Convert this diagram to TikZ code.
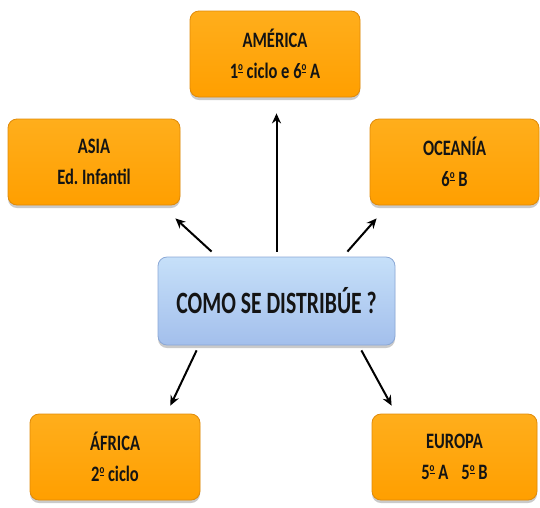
\documentclass[tikz,border=0pt]{standalone}
\usepackage{fontspec}
\setmainfont{Carlito}
\newfontfamily\boxfont[FakeStretch=0.75]{Carlito}
\newfontfamily\midfont[FakeStretch=0.7]{Carlito}
\usetikzlibrary{shadows,arrows.meta,calc}
\definecolor{orA}{HTML}{FFAE1C}
\definecolor{orB}{HTML}{FF9F00}
\definecolor{orD}{HTML}{E08A08}
\definecolor{blA}{HTML}{C6E0F9}
\definecolor{blB}{HTML}{A3BFEC}
\definecolor{blD}{HTML}{8BA8D6}
\definecolor{txt}{HTML}{141414}
\newcommand\ordm{\raisebox{0.36em}{\fontsize{12}{12}\selectfont\underline{o}}}
\frenchspacing
\begin{document}
\begin{tikzpicture}[x=1pt,y=-1pt,
  obox/.style={draw=orD, line width=0.8pt, rounded corners=9pt,
    top color=orA, bottom color=orB, minimum height=86pt,
    align=center, text=txt,
    font=\boxfont\bfseries\fontsize{22}{31}\selectfont,
    drop shadow={shadow xshift=0pt, shadow yshift=-3pt, opacity=0.35, fill=black!60}},
  cbox/.style={draw=blD, line width=0.8pt, rounded corners=9pt,
    top color=blA, bottom color=blB, minimum width=237pt, minimum height=88pt,
    align=center, text=txt,
    font=\midfont\bfseries\fontsize{31}{36}\selectfont,
    drop shadow={shadow xshift=0pt, shadow yshift=-3pt, opacity=0.35, fill=black!60}},
  arr/.style={-{Stealth[length=10pt,width=9pt]}, line width=2pt, black}]
\useasboundingbox (0,0) rectangle (540,507);
\node[obox, minimum width=170pt] (america) at (275,54) {AMÉRICA\\1\ordm{} ciclo e 6\ordm{} A};
\node[obox, minimum width=172pt] (asia) at (94,162) {ASIA\\Ed.\ Infantil};
\node[obox, minimum width=169pt] (oceania) at (454.5,162) {OCEANÍA\\6\ordm{} B};
\node[cbox] (centro) at (276.5,301) {COMO SE DISTRIBÚE ?};
\node[obox, minimum width=170pt] (africa) at (115,457) {ÁFRICA\\2\ordm{} ciclo};
\node[obox, minimum width=165pt] (europa) at (454.5,457) {EUROPA\\5\ordm{} A\hspace{0.6em}5\ordm{} B};
\draw[arr, shorten <=5pt, shorten >=16pt] (centro.north) -- (centro.north |- america.south);
\draw[arr] ([xshift=54pt,yshift=5pt]centro.north west) -- ([xshift=-5pt,yshift=-13pt]asia.south east);
\draw[arr] ([xshift=-48pt,yshift=5pt]centro.north east) -- ([xshift=7pt,yshift=-13pt]oceania.south west);
\draw[arr] ([xshift=39pt,yshift=-5pt]centro.south west) -- ([xshift=-30pt,yshift=8pt]africa.north east);
\draw[arr] ([xshift=-34pt,yshift=-5pt]centro.south east) -- ([xshift=20pt,yshift=8pt]europa.north west);
\end{tikzpicture}
\end{document}
